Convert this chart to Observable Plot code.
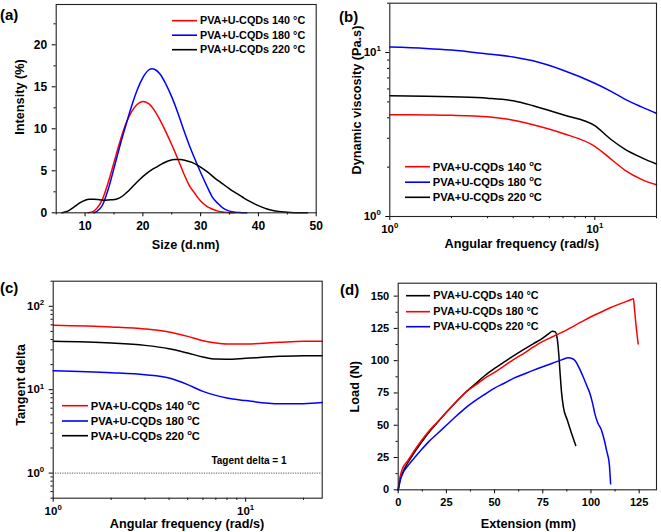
<!DOCTYPE html>
<html><head><meta charset="utf-8">
<script src="https://cdn.jsdelivr.net/npm/d3@7"></script>
<script src="https://cdn.jsdelivr.net/npm/@observablehq/plot@0.6"></script>
<style>
html,body{margin:0;padding:0;background:#fff;}
#wrap{position:relative;width:661px;height:532px;overflow:hidden;background:#fff;}
</style></head><body><div id="wrap"></div>
<script>
const FONT = '"Liberation Sans", Arial, Helvetica, sans-serif';
const RED = "#ff0000", BLUE = "#0000ff", BLACK = "#000000";

// ---------- (a) DLS size distribution: [size (d.nm), intensity (%)]
const sizeRed140 = [[10.5,0],[11.5,0.2],[12,0.5],[13,1.6],[14,3.6],[15,6.0],[16,8.4],[17,10.5],[18,12.0],[19,12.9],[20,13.25],[21,13.0],[22,12.2],[23,11.0],[24,9.6],[25,8.1],[26,6.5],[27,4.8],[28,3.3],[29,2.3],[30,1.4],[31,0.8],[32,0.45],[33,0.2],[34,0.08],[35,0.02],[36,0]];
const sizeBlue180 = [[11.5,0],[12,0.15],[13,0.9],[14,2.8],[15,5.3],[16,7.9],[17,10.3],[18,12.6],[19,14.6],[20,16.1],[21,17.0],[21.6,17.15],[22,17.1],[23,16.5],[24,15.3],[25,13.8],[26,12.0],[27,10.0],[28,8.1],[29,6.4],[30,4.8],[31,3.3],[32,1.9],[33,1.1],[34,0.5],[35,0.2],[36,0.07],[37,0.02],[38,0]];
const sizeBlack220 = [[6,0],[7,0.2],[8,0.65],[9,1.15],[10,1.5],[10.7,1.6],[11.5,1.6],[12.5,1.55],[13.5,1.5],[14.5,1.55],[15.5,1.65],[16.5,2.0],[17.5,2.6],[18.5,3.3],[19.5,4.0],[20.5,4.6],[21.5,5.1],[22.5,5.5],[23.5,5.9],[24.5,6.2],[25.5,6.35],[26.5,6.35],[27.5,6.2],[28.5,6.0],[29.5,5.65],[30.5,5.2],[31.5,4.7],[32.5,4.1],[33.5,3.6],[34.5,3.1],[35.5,2.6],[36.5,2.2],[37.5,1.75],[38.5,1.35],[39.5,1.0],[40.5,0.7],[41.5,0.45],[42.5,0.28],[43.5,0.17],[44.5,0.1],[45.5,0.05],[47,0.01],[48.5,0]];

// ---------- (b) dynamic viscosity vs angular frequency
const freqB = [1,1.5,2,3,4,5,7,10,12,14,17,20];
const viscRed140 = [4.18,4.16,4.14,4.06,3.87,3.63,3.21,2.68,2.24,1.92,1.68,1.56];
const viscBlue180 = [10.8,10.6,10.35,9.8,9.4,8.9,7.8,6.5,5.8,5.2,4.65,4.26];
const viscBlack220 = [5.45,5.42,5.37,5.27,5.08,4.74,4.17,3.58,2.95,2.58,2.28,2.09];

// ---------- (c) tangent delta vs angular frequency
const freqC = [1,2,3,4,5,6,7,8,10,15,20,25];
const tanRed140 = [59.2,56.5,53.5,49.2,43.6,38.7,36.3,35.3,35.3,37,38,38];
const tanBlue180 = [16.9,16,15.1,13.8,11.5,9.55,8.55,7.94,7.4,6.8,6.8,7.0];
const tanBlack220 = [38,36.3,34,31,27.5,24.7,23.3,23.2,23.8,25.1,25.6,25.6];
const tanDeltaRef = [1];

// ---------- (d) load vs extension: [extension (mm), load (N)]
const loadBlack140 = [[0,0],[1,8],[2.5,14],[5,21],[8,28],[12,36.5],[16,44.5],[20,51.5],[25,60],[30,68],[35,75.5],[40,82],[45,88.5],[50,94],[55,99],[60,104],[65,108.5],[70,113],[75,117.5],[78,120.8],[80,122.8],[81.5,122.3],[82.5,117],[83.3,105],[84,90],[84.7,76],[85.7,64],[87.8,53.7],[90,43.4],[92.1,34.3]];
const loadRed180 = [[0,0],[0.5,6],[2,15.5],[5,22.5],[8,29.5],[12,38],[16,45.5],[20,52],[25,60],[30,68],[35,75.5],[40,81],[45,86.5],[50,91],[55,96],[60,101],[65,105.5],[70,110.5],[75,115],[80,118.5],[87,123.5],[95,130],[100,134],[105,137.5],[110,141],[115,144],[121,147.4],[122,148],[122.5,141.5],[123.3,128.6],[124.5,113]];
const loadBlue220 = [[0,0],[0.3,2],[1,7],[2.5,13],[5,18.5],[8,24],[12,31],[16,37.5],[20,43],[25,50],[30,57],[35,63.5],[40,69],[45,74],[50,78.8],[55,82.5],[60,86.5],[65,89.5],[70,92.5],[75,95.3],[80,98],[85,100.8],[88.3,102.2],[90.5,101.5],[92,99.5],[94,94],[96,87.3],[98,80],[99.5,74.4],[101,66],[102,59],[103.5,52],[105.5,46],[107,38],[108.1,30.5],[109.5,20.1],[110.2,4.6]];

// ---------- tick values and labels
const ticksA_x = [10,20,30,40,50], minorA_x = [5,15,25,35,45];
const ticksA_y = [0,5,10,15,20], minorA_y = [2.5,7.5,12.5,17.5,22.5];
const ticksB = [1,10], minorB = [2,3,4,5,6,7,8,9,20];
const ticksC_x = [1,10], minorC_x = [2,3,4,5,6,7,8,9,20];
const ticksC_y = [1,10,100], minorC_y = [0.5,0.6,0.7,0.8,0.9,2,3,4,5,6,7,8,9,20,30,40,50,60,70,80,90,200];
const ticksD_x = [0,25,50,75,100,125], minorD_x = [12.5,37.5,62.5,87.5,112.5];
const ticksD_y = [0,25,50,75,100,125,150], minorD_y = [12.5,37.5,62.5,87.5,112.5,137.5];

const legendDeg = ["PVA+U-CQDs 140 °C","PVA+U-CQDs 180 °C","PVA+U-CQDs 220 °C"];
const legendSup = ["PVA+U-CQDs 140 {o}C","PVA+U-CQDs 180 {o}C","PVA+U-CQDs 220 {o}C"];
const logFmt = d => "10{" + Math.round(Math.log10(d)) + "}";

const svgNS = "http://www.w3.org/2000/svg";
const wrap = document.getElementById("wrap");

function setRich(el, str, fs) {
  const parts = String(str).split(/(\{[^}]*\})/).filter(s => s !== "");
  el.textContent = "";
  let shifted = false;
  for (const p of parts) {
    const ts = document.createElementNS(svgNS, "tspan");
    if (p.startsWith("{")) {
      ts.textContent = p.slice(1, -1);
      ts.setAttribute("font-size", (fs * 0.68).toFixed(2));
      ts.setAttribute("dy", (-fs * 0.42).toFixed(2));
      shifted = true;
    } else {
      ts.textContent = p;
      if (shifted) { ts.setAttribute("dy", (fs * 0.42).toFixed(2)); shifted = false; }
    }
    el.appendChild(ts);
  }
}

function addText(svg, x, y, str, {size = 12.7, anchor = "middle", rotate = 0} = {}) {
  const t = document.createElementNS(svgNS, "text");
  t.setAttribute("font-family", FONT);
  t.setAttribute("font-weight", "bold");
  t.setAttribute("font-size", size);
  t.setAttribute("fill", "#000");
  t.setAttribute("text-anchor", anchor);
  t.setAttribute("transform", `translate(${x},${y}) rotate(${rotate})`);
  t.setAttribute("dy", "0.35em");
  setRich(t, str, size);
  svg.appendChild(t);
}

function addLegend(svg, labels, colors, {x1, x2, tx, ys, size = 11}) {
  labels.forEach((lab, i) => {
    const l = document.createElementNS(svgNS, "line");
    l.setAttribute("x1", x1); l.setAttribute("x2", x2);
    l.setAttribute("y1", ys[i]); l.setAttribute("y2", ys[i]);
    l.setAttribute("stroke", colors[i]); l.setAttribute("stroke-width", 1.6);
    svg.appendChild(l);
    addText(svg, tx, ys[i], lab, {size, anchor: "start"});
  });
}

function makePanel(cfg) {
  const lines = cfg.series.map(s => Plot.line(s.data, {
    x: d => d[0], y: d => d[1], stroke: s.color, strokeWidth: 1.5, curve: "monotone-x"
  }));
  const p = Plot.plot({
    width: cfg.width, height: cfg.height,
    marginTop: cfg.m[0], marginRight: cfg.m[1], marginBottom: cfg.m[2], marginLeft: cfg.m[3],
    x: {type: cfg.xType, domain: cfg.xDomain},
    y: {type: cfg.yType, domain: cfg.yDomain},
    style: {fontFamily: FONT, fontSize: cfg.tickSize + "px", fontWeight: "bold", color: "#000", background: "transparent", overflow: "visible"},
    marks: [
      ...(cfg.extra || []),
      ...lines,
      Plot.axisX({ticks: cfg.xMinor, tickSize: 2.2, tickFormat: () => "", label: null}),
      Plot.axisX({ticks: cfg.xMajor, tickSize: 4, tickPadding: 4.5, tickFormat: cfg.xFmt, label: null}),
      Plot.axisY({ticks: cfg.yMinor, tickSize: 2.2, tickFormat: () => "", label: null}),
      Plot.axisY({ticks: cfg.yMajor, tickSize: 4, tickPadding: 5, tickFormat: cfg.yFmt, label: null}),
      Plot.frame({stroke: "#222", strokeWidth: 1.1})
    ]
  });
  p.style.position = "absolute";
  p.style.left = cfg.left + "px";
  p.style.top = cfg.top + "px";
  wrap.appendChild(p);
  p.querySelectorAll("text").forEach(t => {
    if (t.textContent.includes("{")) setRich(t, t.textContent, cfg.tickSize);
  });
  return p;
}

const toPairs = (xs, ys) => xs.map((x, i) => [x, ys[i]]);

// ---------- panel (a)
const pa = makePanel({
  left: 0, top: 0, width: 330, height: 262, m: [4, 14.3, 49.7, 55.7],
  xType: "linear", xDomain: [5, 50], yType: "linear", yDomain: [0, 24.8],
  xMajor: ticksA_x, xMinor: minorA_x, yMajor: ticksA_y, yMinor: minorA_y,
  xFmt: d => String(d), yFmt: d => String(d), tickSize: 12,
  series: [{data: sizeRed140, color: RED}, {data: sizeBlue180, color: BLUE}, {data: sizeBlack220, color: BLACK}]
});
addText(pa, 185.7, 245, "Size (d.nm)");
addText(pa, 20, 97, "Intensity (%)", {rotate: -90});
addText(pa, 0, 15, "(a)", {size: 15, anchor: "start"});
addLegend(pa, legendDeg, [RED, BLUE, BLACK], {x1: 172, x2: 197, tx: 200, ys: [20.7, 35.2, 49.7], size: 10.8});

// ---------- panel (b)
const pb = makePanel({
  left: 330, top: 0, width: 331, height: 262, m: [2.7, 5, 46, 59.3],
  xType: "log", xDomain: [1, 20], yType: "log", yDomain: [1, 20],
  xMajor: ticksB, xMinor: minorB, yMajor: ticksB, yMinor: minorB,
  xFmt: logFmt, yFmt: logFmt, tickSize: 11.5,
  series: [{data: toPairs(freqB, viscRed140), color: RED}, {data: toPairs(freqB, viscBlue180), color: BLUE}, {data: toPairs(freqB, viscBlack220), color: BLACK}]
});
addText(pb, 191.7, 244, "Angular frequency (rad/s)");
addText(pb, 26.7, 100, "Dynamic viscosity (Pa.s)", {rotate: -90});
addText(pb, 9, 16.5, "(b)", {size: 15, anchor: "start"});
addLegend(pb, legendSup, [RED, BLUE, BLACK], {x1: 75, x2: 100, tx: 102.7, ys: [166.7, 182.2, 197.3], size: 11.2});

// ---------- panel (c)
const pc = makePanel({
  left: 0, top: 262, width: 330, height: 270, m: [18.7, 8.3, 34.3, 52.7],
  xType: "log", xDomain: [1, 25], yType: "log", yDomain: [0.5, 200],
  xMajor: ticksC_x, xMinor: minorC_x, yMajor: ticksC_y, yMinor: minorC_y,
  xFmt: logFmt, yFmt: logFmt, tickSize: 11.5,
  extra: [Plot.ruleY(tanDeltaRef, {stroke: "#555", strokeWidth: 1, strokeDasharray: "1.2,1.2"})],
  series: [{data: toPairs(freqC, tanRed140), color: RED}, {data: toPairs(freqC, tanBlue180), color: BLUE}, {data: toPairs(freqC, tanBlack220), color: BLACK}]
});
addText(pc, 187, 261.3, "Angular frequency (rad/s)");
addText(pc, 20.7, 123, "Tangent delta", {rotate: -90});
addText(pc, 0, 25.5, "(c)", {size: 15, anchor: "start"});
addText(pc, 249, 198, "Tagent delta = 1", {size: 10});
addLegend(pc, legendSup, [RED, BLUE, BLACK], {x1: 62, x2: 88, tx: 90.7, ys: [143.7, 159, 173.7], size: 11.2});

// ---------- panel (d)
const pd = makePanel({
  left: 330, top: 262, width: 331, height: 270, m: [20.7, 5, 42.7, 67.7],
  xType: "linear", xDomain: [0, 134], yType: "linear", yDomain: [0, 160],
  xMajor: ticksD_x, xMinor: minorD_x, yMajor: ticksD_y, yMinor: minorD_y,
  xFmt: d => String(d), yFmt: d => String(d), tickSize: 11,
  series: [{data: loadBlack140, color: BLACK}, {data: loadRed180, color: RED}, {data: loadBlue220, color: BLUE}]
});
addText(pd, 198.3, 261.3, "Extension (mm)");
addText(pd, 25, 124.7, "Load (N)", {rotate: -90});
addText(pd, 10, 28, "(d)", {size: 15, anchor: "start"});
addLegend(pd, legendDeg, [BLACK, RED, BLUE], {x1: 76, x2: 100, tx: 103.3, ys: [33.7, 49.7, 64.7], size: 10.8});
</script>
</body></html>
